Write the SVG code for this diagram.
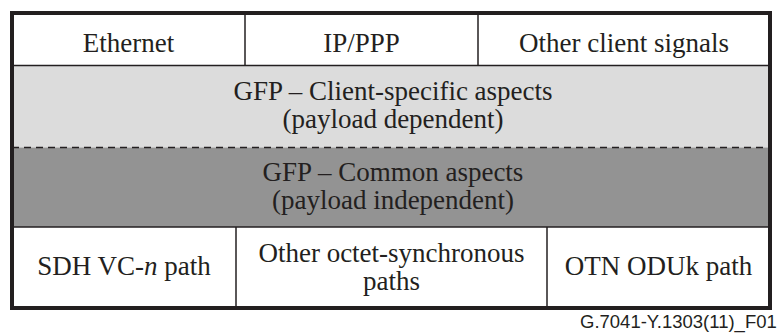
<svg xmlns="http://www.w3.org/2000/svg" width="778" height="333" viewBox="0 0 778 333">
<style>
text.t{font-family:'Liberation Serif','Times New Roman',Times,serif;font-size:27px;fill:#231f20;text-anchor:middle}
.ln{stroke:#231f20;stroke-width:1.5;fill:none}
text.cap{font-family:'Liberation Sans',Arial,sans-serif;font-size:18.5px;fill:#231f20}
</style>
<rect x="0" y="0" width="778" height="333" fill="#ffffff"/>
<g id="row-clients">
<rect x="12" y="13" width="758" height="53" fill="#ffffff"/>
<g id="ethernet"><text class="t" x="128.5" y="52">Ethernet</text></g>
<g id="ip-ppp"><text class="t" x="361.5" y="52">IP/PPP</text></g>
<g id="other-client"><text class="t" x="624" y="52">Other client signals</text></g>
</g>
<g id="gfp-client-specific">
<rect x="12" y="66" width="758" height="81.5" fill="#dcdcdc"/>
<text class="t" x="393" y="100">GFP – Client-specific aspects</text>
<text class="t" x="393" y="128">(payload dependent)</text>
</g>
<g id="gfp-common">
<rect x="12" y="147.5" width="758" height="79.5" fill="#939393"/>
<text class="t" x="393" y="181">GFP – Common aspects</text>
<text class="t" x="393" y="209">(payload independent)</text>
</g>
<g id="row-paths">
<rect x="12" y="227" width="758" height="81" fill="#ffffff"/>
<g id="sdh"><text class="t" x="124" y="275">SDH VC-<tspan font-style="italic">n</tspan> path</text></g>
<g id="other-octet"><text class="t" x="391.5" y="262">Other octet-synchronous</text><text class="t" x="391.5" y="290">paths</text></g>
<g id="otn"><text class="t" x="658.5" y="275">OTN ODUk path</text></g>
</g>
<g id="connectors">
<line class="ln" x1="12" y1="65.5" x2="770" y2="65.5"/>
<line class="ln" x1="12" y1="147.5" x2="770" y2="147.5" stroke-dasharray="7 5"/>
<line class="ln" x1="12" y1="227" x2="770" y2="227"/>
<line class="ln" x1="245" y1="13" x2="245" y2="65.5"/>
<line class="ln" x1="478" y1="13" x2="478" y2="65.5"/>
<line class="ln" x1="236" y1="227" x2="236" y2="308"/>
<line class="ln" x1="547" y1="227" x2="547" y2="308"/>
</g>
<rect x="12" y="13" width="758" height="295" fill="none" stroke="#231f20" stroke-width="4"/>
<text class="cap" x="580" y="328">G.7041-Y.1303(11)_F01</text>
</svg>
